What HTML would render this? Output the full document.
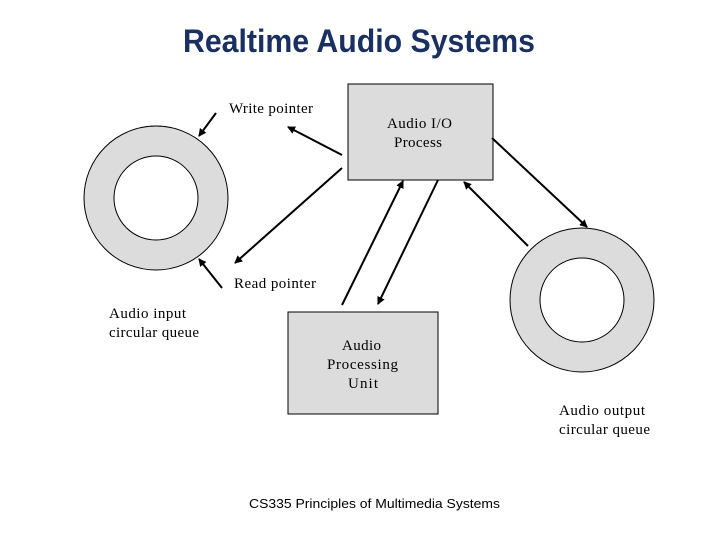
<!DOCTYPE html>
<html><head><style>html,body{margin:0;padding:0;background:#fff;}svg{display:block}</style></head>
<body>
<svg width="720" height="540" viewBox="0 0 720 540" xmlns="http://www.w3.org/2000/svg">
<defs>
<marker id="a" markerWidth="8" markerHeight="8" refX="7" refY="4" orient="auto" markerUnits="userSpaceOnUse">
<path d="M0,0 L8,4 L0,8 z" fill="#000"/></marker>
</defs>
<text x="359" y="52" text-anchor="middle" font-family="Liberation Sans, sans-serif" font-weight="bold" font-size="32" fill="#1a3060" textLength="352" lengthAdjust="spacingAndGlyphs">Realtime Audio Systems</text>
<circle cx="156" cy="198" r="72" fill="#dcdcdc" stroke="#000" stroke-width="1"/>
<circle cx="156" cy="198" r="42" fill="#fff" stroke="#000" stroke-width="1"/>
<circle cx="582" cy="300" r="72" fill="#dcdcdc" stroke="#000" stroke-width="1"/>
<circle cx="582" cy="300" r="42" fill="#fff" stroke="#000" stroke-width="1"/>
<rect x="348" y="84" width="145" height="96" fill="#dcdcdc" stroke="#000"/>
<rect x="288" y="312" width="150" height="102" fill="#dcdcdc" stroke="#000"/>
<g stroke="#000" stroke-width="2" marker-end="url(#a)">
<line x1="216" y1="113" x2="199" y2="136"/>
<line x1="342" y1="155" x2="288" y2="127"/>
<line x1="342" y1="168" x2="235" y2="263"/>
<line x1="222" y1="288" x2="199" y2="259"/>
<line x1="342" y1="305" x2="403" y2="181"/>
<line x1="438" y1="180" x2="378" y2="304"/>
<line x1="492" y1="138" x2="587" y2="227"/>
<line x1="528" y1="246" x2="464" y2="182"/>
</g>
<g font-family="Liberation Serif, serif" font-size="15" fill="#000" lengthAdjust="spacingAndGlyphs">
<text x="229" y="113" textLength="84">Write pointer</text>
<text x="387" y="128" textLength="65">Audio I/O</text>
<text x="394" y="147" textLength="48">Process</text>
<text x="234" y="288" textLength="82">Read pointer</text>
<text x="109" y="318" textLength="77">Audio input</text>
<text x="109" y="337" textLength="90">circular queue</text>
<text x="342" y="350" textLength="39">Audio</text>
<text x="327" y="369" textLength="71">Processing</text>
<text x="348" y="388" textLength="30">Unit</text>
<text x="559" y="415" textLength="86">Audio output</text>
<text x="559" y="434" textLength="91">circular queue</text>
</g>
<text x="249" y="508" font-family="Liberation Sans, sans-serif" font-size="13" fill="#000" textLength="251" lengthAdjust="spacingAndGlyphs">CS335 Principles of Multimedia Systems</text>
</svg>
</body></html>
